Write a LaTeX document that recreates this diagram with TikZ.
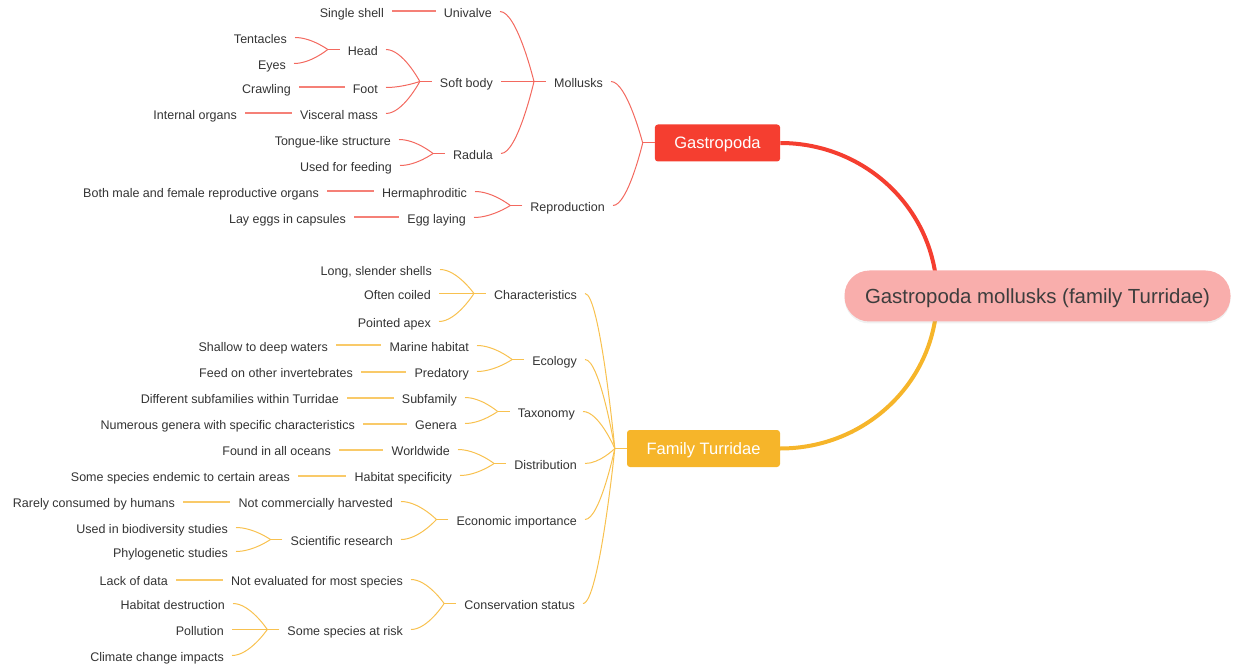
\documentclass[tikz,border=0pt]{standalone}
\usepackage{fontspec}
\setmainfont{Liberation Sans}
\usetikzlibrary{calc, shadows, backgrounds}

\definecolor{gastred}{HTML}{F53E30}
\definecolor{gastline}{HTML}{F3695F}
\definecolor{turrorange}{HTML}{F6B52A}
\definecolor{turrline}{HTML}{F8C14F}
\definecolor{rootpink}{HTML}{F9AEAC}
\definecolor{ink}{HTML}{333333}

\tikzset{
  leaf/.style={anchor=east, inner xsep=8pt, inner ysep=1pt, text height=12pt, text depth=0pt,
    text=ink, font=\fontsize{12.5}{15}\selectfont},
  topic/.style={rounded corners=3pt, minimum height=37pt, inner xsep=19.5pt, text height=12pt,
    text depth=0pt, text=white, font=\fontsize{16.5}{20}\selectfont},
  hub/.style={rounded corners=25pt, fill=rootpink, minimum height=51pt, inner xsep=20.5pt,
    text height=14.6pt, text depth=0pt, text=ink!95, font=\fontsize{20.4}{24}\selectfont,
    drop shadow={shadow xshift=0pt, shadow yshift=-2pt, opacity=.12}},
  redline/.style={gastline, line width=1pt},
  redstub/.style={gastline!85, line width=2pt},
  orangeline/.style={turrline, line width=1pt},
  orangestub/.style={turrline!85, line width=2pt},
  trunk/.style={line width=4pt}
}

\begin{document}
\begin{tikzpicture}[x=1pt, y=-1pt]
\useasboundingbox (0,0.5) rectangle (1240,668.5);

\node[hub] (root) at (1037.5,296.5) {Gastropoda mollusks (family Turridae)};
\node[topic, fill=gastred] (gastro) at (717.5,143.5) {Gastropoda};
\node[topic, fill=turrorange] (turr) at (703.5,449) {Family Turridae};
\coordinate (core) at (937,296.5);

% Gastropoda side
\node[leaf] (moll) at (611,82) {Mollusks};
\node[leaf] (repr) at (613,206) {Reproduction};
\node[leaf] (uni) at (500,12) {Univalve};
\node[leaf] (soft) at (501,82) {Soft body};
\node[leaf] (rad) at (501,154) {Radula};
\node[leaf] (shell) at (392,12) {Single shell};
\node[leaf] (head) at (386,50) {Head};
\node[leaf] (foot) at (386,88) {Foot};
\node[leaf] (visc) at (386,114) {Visceral mass};
\node[leaf] (tent) at (295,38) {Tentacles};
\node[leaf] (eyes) at (294,64) {Eyes};
\node[leaf] (crawl) at (299,88) {Crawling};
\node[leaf] (organs) at (245,114) {Internal organs};
\node[leaf] (tongue) at (399,140) {Tongue-like structure};
\node[leaf] (feed) at (400,166) {Used for feeding};
\node[leaf] (herm) at (475,192) {Hermaphroditic};
\node[leaf] (egg) at (474,218) {Egg laying};
\node[leaf] (both) at (327,192) {Both male and female reproductive organs};
\node[leaf] (eggs) at (354,218) {Lay eggs in capsules};

% Family Turridae side
\node[leaf] (charac) at (585,294) {Characteristics};
\node[leaf] (ecol) at (585,360) {Ecology};
\node[leaf] (taxo) at (583,412) {Taxonomy};
\node[leaf] (distr) at (585,464) {Distribution};
\node[leaf] (econ) at (585,520) {Economic importance};
\node[leaf] (cons) at (583,604) {Conservation status};
\node[leaf] (slender) at (440,270) {Long, slender shells};
\node[leaf] (coiled) at (439,294) {Often coiled};
\node[leaf] (apex) at (439,322) {Pointed apex};
\node[leaf] (marine) at (477,346) {Marine habitat};
\node[leaf] (pred) at (477,372) {Predatory};
\node[leaf] (shallow) at (336,346) {Shallow to deep waters};
\node[leaf] (feedon) at (361,372) {Feed on other invertebrates};
\node[leaf] (subfam) at (465,398) {Subfamily};
\node[leaf] (genera) at (465,424) {Genera};
\node[leaf] (subfams) at (347,398) {Different subfamilies within Turridae};
\node[leaf] (numerous) at (363,424) {Numerous genera with specific characteristics};
\node[leaf] (world) at (458,450) {Worldwide};
\node[leaf] (habspec) at (460,476) {Habitat specificity};
\node[leaf] (oceans) at (339,450) {Found in all oceans};
\node[leaf] (endemic) at (298,476) {Some species endemic to certain areas};
\node[leaf] (notharv) at (401,502) {Not commercially harvested};
\node[leaf] (research) at (401,540) {Scientific research};
\node[leaf] (rarely) at (183,502) {Rarely consumed by humans};
\node[leaf] (biodiv) at (236,528) {Used in biodiversity studies};
\node[leaf] (phylo) at (236,552) {Phylogenetic studies};
\node[leaf] (noteval) at (411,580) {Not evaluated for most species};
\node[leaf] (atrisk) at (411,630) {Some species at risk};
\node[leaf] (lackdata) at (176,580) {Lack of data};
\node[leaf] (habdest) at (233,604) {Habitat destruction};
\node[leaf] (pollution) at (232,630) {Pollution};
\node[leaf] (climate) at (232,656) {Climate change impacts};

% main branches
\begin{scope}[on background layer]
\draw[trunk, gastred] (gastro.east) .. controls +(87,0) and +(0,-84) .. (core);
\draw[trunk, turrorange] (turr.east) .. controls +(87,0) and +(0,84) .. (core);
\end{scope}

% brackets
\foreach \p/\kids in {gastro/{moll,repr}, moll/{uni,soft,rad}, soft/{head,foot,visc},
    head/{tent,eyes}, rad/{tongue,feed}, repr/{herm,egg}} {
  \coordinate (\p-b) at ([xshift=-12pt]\p.west);
  \draw[redline] (\p.west) -- (\p-b);
  \foreach \c in \kids
    \draw[redline] (\c.east) .. controls ($(\c.east)!.5!(\p-b |- \c.east)$) and (\p-b) .. (\p-b);
}
\foreach \p/\kids in {turr/{charac,ecol,taxo,distr,econ,cons}, charac/{slender,coiled,apex},
    ecol/{marine,pred}, taxo/{subfam,genera}, distr/{world,habspec}, econ/{notharv,research},
    research/{biodiv,phylo}, cons/{noteval,atrisk}, atrisk/{habdest,pollution,climate}} {
  \coordinate (\p-b) at ([xshift=-12pt]\p.west);
  \draw[orangeline] (\p.west) -- (\p-b);
  \foreach \c in \kids
    \draw[orangeline] (\c.east) .. controls ($(\c.east)!.5!(\p-b |- \c.east)$) and (\p-b) .. (\p-b);
}

% single children
\foreach \a/\b in {shell/uni, crawl/foot, organs/visc, both/herm, eggs/egg}
  \draw[redstub] (\a.east) -- (\b.west);
\foreach \a/\b in {shallow/marine, feedon/pred, subfams/subfam, numerous/genera,
    oceans/world, endemic/habspec, rarely/notharv, lackdata/noteval}
  \draw[orangestub] (\a.east) -- (\b.west);
\end{tikzpicture}
\end{document}
